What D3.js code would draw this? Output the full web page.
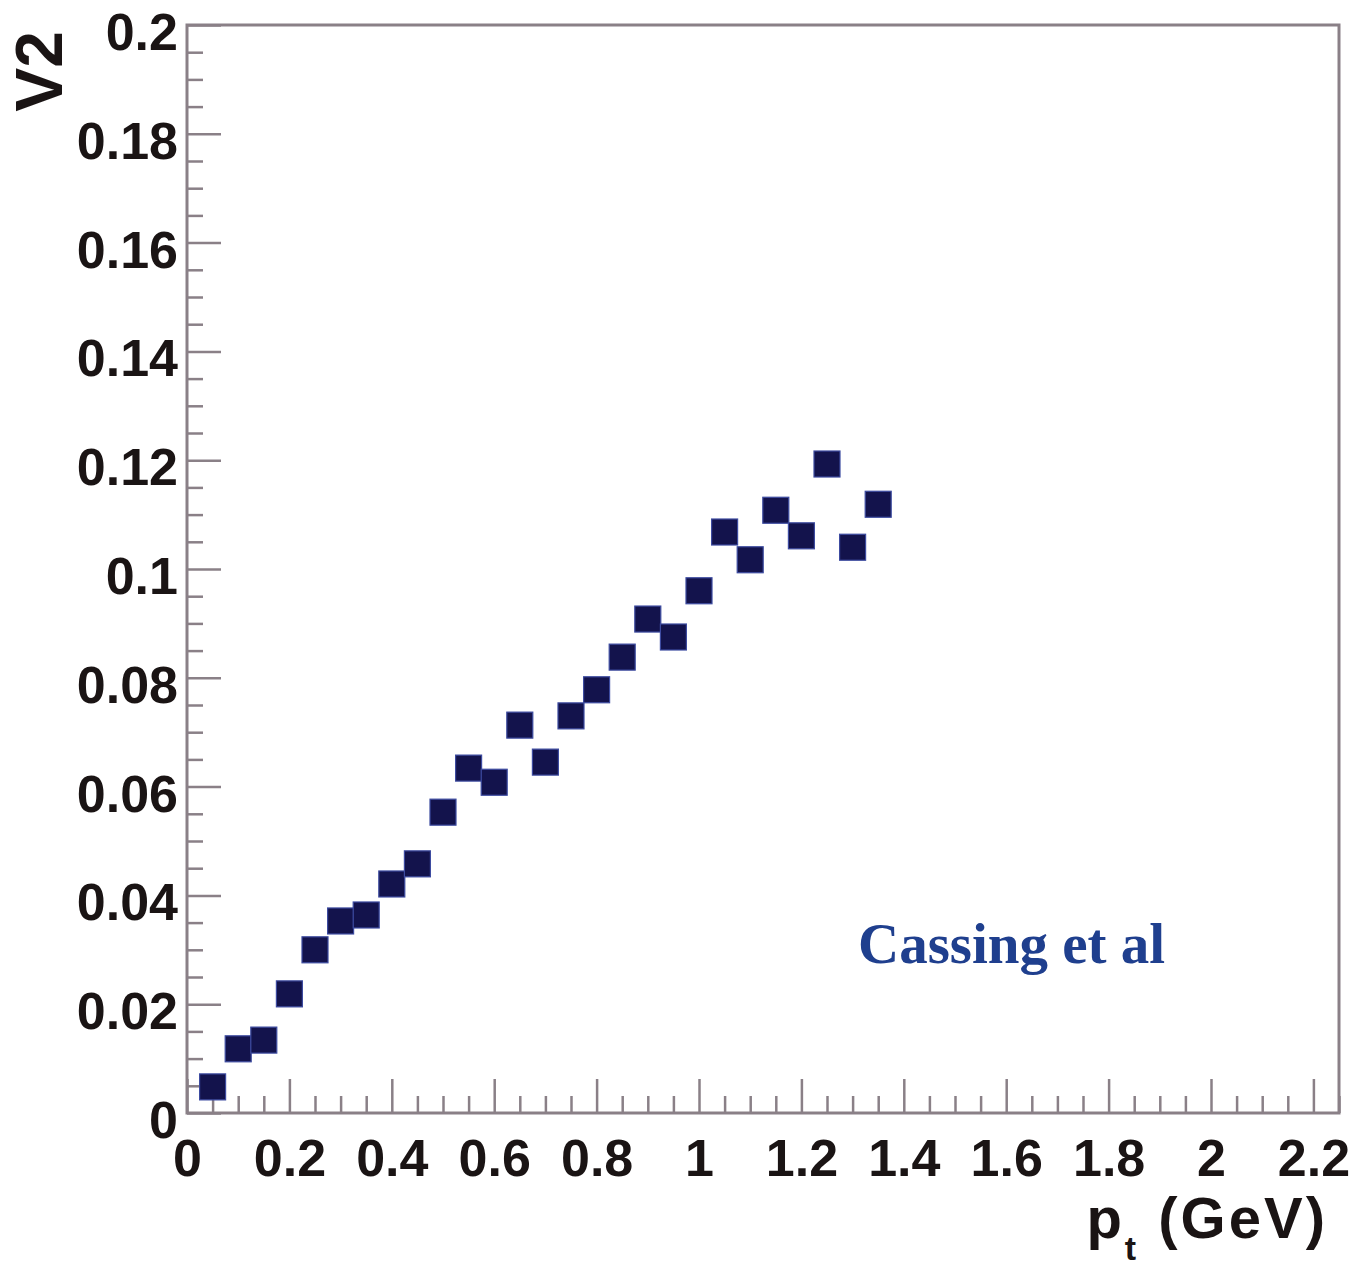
<!DOCTYPE html>
<html>
<head>
<meta charset="utf-8">
<script src="https://cdn.jsdelivr.net/npm/d3@7"></script>
<style>
  html, body { margin: 0; padding: 0; background: #ffffff; }
  svg { display: block; }
</style>
</head>
<body>
<svg id="chart" width="1361" height="1267"></svg>
<script>
// ---- data ----
const pt = [0.05, 0.10, 0.15, 0.20, 0.25, 0.30, 0.35, 0.40, 0.45, 0.50,
            0.55, 0.60, 0.65, 0.70, 0.75, 0.80, 0.85, 0.90, 0.95, 1.00,
            1.05, 1.10, 1.15, 1.20, 1.25, 1.30, 1.35];
const v2 = [0.0048, 0.0118, 0.0134, 0.0219, 0.0300, 0.0353, 0.0364, 0.0421, 0.0458, 0.0553,
            0.0634, 0.0608, 0.0713, 0.0645, 0.0730, 0.0778, 0.0838, 0.0908, 0.0875, 0.0960,
            0.1068, 0.1017, 0.1108, 0.1061, 0.1193, 0.1040, 0.1119];
const xTickValues = [0, 0.2, 0.4, 0.6, 0.8, 1.0, 1.2, 1.4, 1.6, 1.8, 2.0, 2.2];
const xTickLabels = ["0", "0.2", "0.4", "0.6", "0.8", "1", "1.2", "1.4", "1.6", "1.8", "2", "2.2"];
const yTickValues = [0, 0.02, 0.04, 0.06, 0.08, 0.10, 0.12, 0.14, 0.16, 0.18, 0.20];
const yTickLabels = ["0", "0.02", "0.04", "0.06", "0.08", "0.1", "0.12", "0.14", "0.16", "0.18", "0.2"];
const xDomain = [0, 2.25];
const yDomain = [0, 0.2];
const xLabel = "p";
const xLabelSub = "t";
const xLabelUnit = " (GeV)";
const yLabel = "V2";
const annotation = "Cassing et al";

// ---- layout ----
const plotL = 187, plotR = 1339, plotT = 25, plotB = 1113;
const svg = d3.select("#chart");
const x = d3.scaleLinear().domain(xDomain).range([plotL, plotR]);
const y = d3.scaleLinear().domain(yDomain).range([plotB, plotT]);
const axisColor = "#8a8087";
const font = "'Liberation Sans', Arial, Helvetica, sans-serif";

// minor ticks
const xMinor = d3.range(0, 2.2501, 0.05).filter(v => !xTickValues.some(t => Math.abs(t - v) < 1e-6));
const yMinor = d3.range(0, 0.2001, 0.005).filter(v => !yTickValues.some(t => Math.abs(t - v) < 1e-6));

const gxMinor = svg.append("g").attr("transform", `translate(0,${plotB})`)
  .call(d3.axisBottom(x).tickValues(xMinor).tickSize(-17).tickFormat(""));
const gyMinor = svg.append("g").attr("transform", `translate(${plotL},0)`)
  .call(d3.axisLeft(y).tickValues(yMinor).tickSize(-16).tickFormat(""));

const gx = svg.append("g").attr("transform", `translate(0,${plotB})`)
  .call(d3.axisBottom(x).tickValues(xTickValues).tickSize(-34).tickPadding(0)
        .tickFormat((d, i) => xTickLabels[i]));
const gy = svg.append("g").attr("transform", `translate(${plotL},0)`)
  .call(d3.axisLeft(y).tickValues(yTickValues).tickSize(-34).tickPadding(9)
        .tickFormat((d, i) => yTickLabels[i]));

[gxMinor, gyMinor, gx, gy].forEach(g => {
  g.select(".domain").remove();
  g.selectAll(".tick line").attr("stroke", axisColor).attr("stroke-width", 2.5);
});

gx.selectAll(".tick text")
  .attr("y", 63).attr("dy", 0)
  .attr("fill", "#1a1414")
  .style("font-family", font).style("font-weight", "bold").style("font-size", "52px");
gy.selectAll(".tick text")
  .attr("dy", "0.47em")
  .attr("fill", "#1a1414")
  .style("font-family", font).style("font-weight", "bold").style("font-size", "52px");

// frame
svg.append("rect")
  .attr("x", plotL).attr("y", plotT)
  .attr("width", plotR - plotL).attr("height", plotB - plotT)
  .attr("fill", "none").attr("stroke", axisColor).attr("stroke-width", 3);

// data markers
const size = 26;
svg.append("g").selectAll("rect")
  .data(pt.map((p, i) => [p, v2[i]]))
  .join("rect")
  .attr("x", d => x(d[0]) - size / 2)
  .attr("y", d => y(d[1]) - size / 2)
  .attr("width", size).attr("height", size)
  .attr("fill", "#13134c")
  .attr("stroke", "#3d4ba0").attr("stroke-width", 1.2);

// axis titles
const xt = svg.append("text")
  .attr("x", 1328).attr("y", 1238)
  .attr("text-anchor", "end")
  .attr("fill", "#1a1414")
  .style("font-family", font).style("font-weight", "bold").style("font-size", "58px")
  .style("letter-spacing", "3px");
xt.append("tspan").text(xLabel);
xt.append("tspan").text(xLabelSub).attr("dy", 22).style("font-size", "34px");
xt.append("tspan").text(xLabelUnit).attr("dy", -22);

svg.append("text")
  .attr("transform", "translate(62,31) rotate(-90)")
  .attr("text-anchor", "end")
  .attr("fill", "#1a1414")
  .style("font-family", font).style("font-weight", "bold").style("font-size", "66px")
  .text(yLabel);

// annotation
svg.append("text")
  .attr("x", 858).attr("y", 963)
  .attr("fill", "#1f3f8e")
  .style("font-family", "'Liberation Serif', 'DejaVu Serif', serif")
  .style("font-weight", "bold").style("font-size", "57px")
  .text(annotation);
</script>
</body>
</html>
